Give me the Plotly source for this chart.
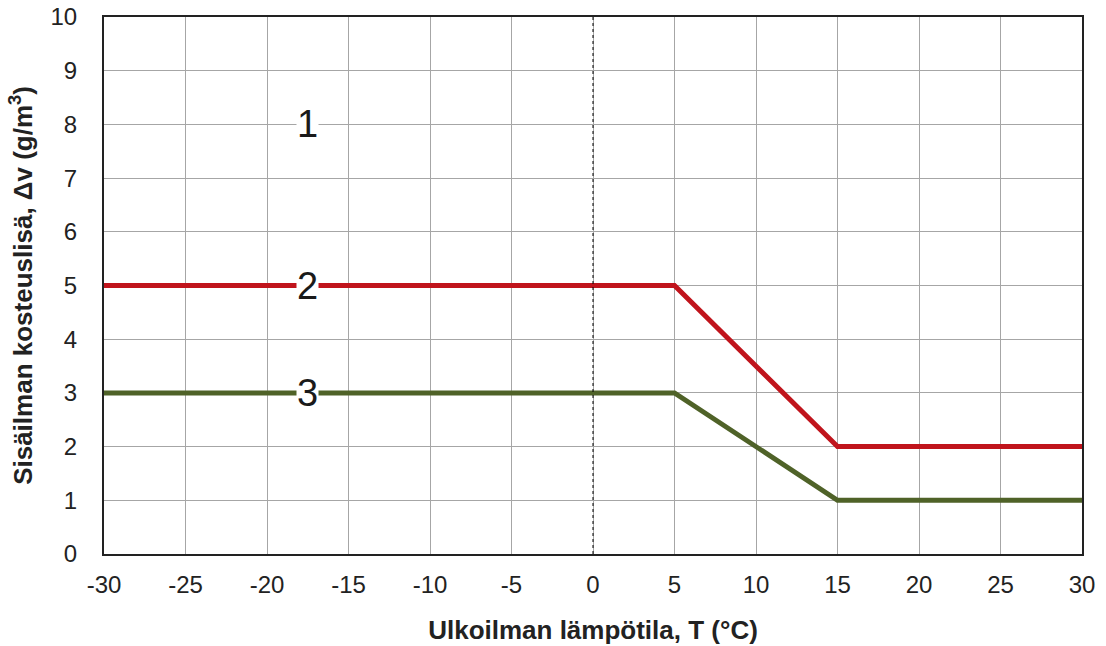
import plotly.graph_objects as go

# Data
temps = [-30, 5, 15, 30]
curve2 = [5, 5, 2, 2]
curve3 = [3, 3, 1, 1]
label_names = ["1", "2", "3"]
label_x = [-17.5, -17.5, -17.5]
label_y = [8, 5, 3]
x_ticks = [-30, -25, -20, -15, -10, -5, 0, 5, 10, 15, 20, 25, 30]
y_ticks = list(range(0, 11))

RED = "#C0141C"
GREEN = "#4F6228"
FONT = "Liberation Sans, Arial, sans-serif"
TXT = "#222222"

fig = go.Figure()
fig.add_trace(go.Scatter(x=temps, y=curve2, mode="lines",
                         line=dict(color=RED, width=5), showlegend=False, cliponaxis=False))
fig.add_trace(go.Scatter(x=temps, y=curve3, mode="lines",
                         line=dict(color=GREEN, width=5), showlegend=False, cliponaxis=False))

# dotted zero line
fig.add_shape(type="line", x0=0, x1=0, y0=0, y1=10, xref="x", yref="y",
              line=dict(color="black", width=1, dash="dot"), layer="above")

for name, lx, ly in zip(label_names, label_x, label_y):
    fig.add_annotation(x=lx, y=ly, text=name, showarrow=False,
                       font=dict(family=FONT, size=38, color="#1a1a1a"),
                       bgcolor="white", borderpad=0)

fig.update_layout(
    width=1106, height=646,
    margin=dict(l=104, r=24, t=17, b=92),
    paper_bgcolor="white", plot_bgcolor="white",
    font=dict(family=FONT, color=TXT),
)
fig.update_xaxes(
    range=[-30, 30], tickvals=x_ticks, ticktext=[str(v) for v in x_ticks],
    showgrid=True, gridcolor="#A6A6A6", gridwidth=1,
    showline=True, linecolor=TXT, linewidth=2, mirror=True, automargin=False,
    zeroline=False, ticks="", ticklabelstandoff=8,
    tickfont=dict(size=24, family=FONT, color=TXT),
    title=dict(text="<b>Ulkoilman lämpötila, T (°C)</b>", font=dict(size=26, family=FONT, color=TXT), standoff=24),
)
fig.update_yaxes(
    range=[0, 10], tickvals=y_ticks,
    showgrid=True, gridcolor="#A6A6A6", gridwidth=1,
    showline=True, linecolor=TXT, linewidth=2, mirror=True, automargin=False,
    zeroline=False, ticks="", ticklabelstandoff=20,
    tickfont=dict(size=24, family=FONT, color=TXT),
    title=dict(text="<b>Sisäilman kosteuslisä, Δv (g/m<sup>3</sup>)</b>", font=dict(size=26, family=FONT, color=TXT), standoff=10),
)

fig.write_html("out.html", config={"displayModeBar": False},
               post_script="document.body.style.margin='0';document.body.style.overflow='hidden';")
